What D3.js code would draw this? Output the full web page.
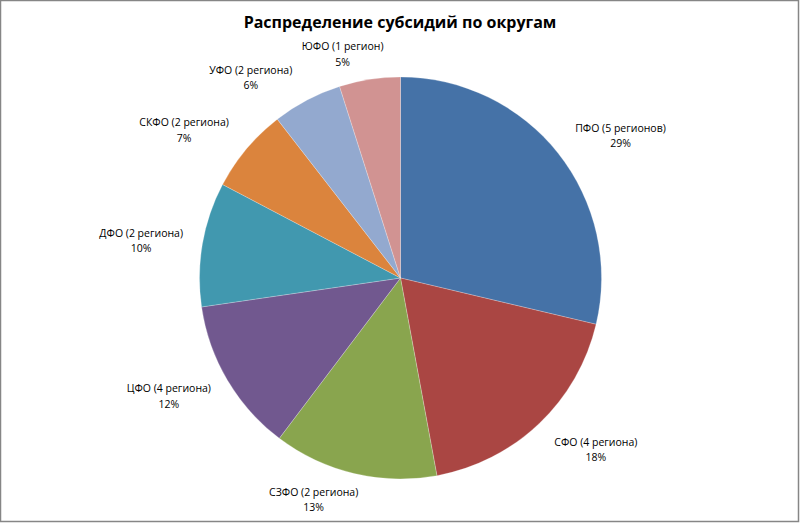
<!DOCTYPE html>
<html lang="ru">
  <head>
    <meta charset="UTF-8" />
    <title>Распределение субсидий по округам</title>
    <script src="https://d3js.org/d3.v7.min.js"></script>
    <style>
      body {
        margin: 0;
        background: #fff;
      }
      svg {
        display: block;
        font-family: "Open Sans", "DejaVu Sans", sans-serif;
      }
      .title {
        font-weight: bold;
        font-size: 16px;
        fill: #000;
      }
      .label {
        font-size: 10.5px;
        fill: #000;
      }
    </style>
  </head>
  <body>
    <div id="chart"></div>

    <script>
      // Данные (доли в процентах, по часовой стрелке от 12 часов)
      const okruga = ["ПФО", "СФО", "СЗФО", "ЦФО", "ДФО", "СКФО", "УФО", "ЮФО"];
      const regiony = ["5 регионов", "4 региона", "2 региона", "4 региона", "2 региона", "2 региона", "2 региона", "1 регион"];
      const doli = [28.7, 18.4, 13.2, 12.4, 10.0, 6.8, 5.6, 4.9];

      const colors = ["#4572A7", "#AA4643", "#89A54E", "#71588F", "#4198AF", "#DB843D", "#93A9CF", "#D19392"];

      // Расположение подписей (угол в градусах от 12 часов, расстояние от центра)
      const labelAngle = [57.1, 131.3, 201.4, 243.0, 278.2, 304.3, 323.2, 345.5];
      const labelDist = [262, 260, 238, 260, 262, 262, 250, 231];

      const width = 800;
      const height = 523;
      const cx = 400.5;
      const cy = 278;
      const radius = 201;

      const data = okruga.map((o, i) => ({ okrug: o, regiony: regiony[i], dolya: doli[i], i: i }));
      const total = d3.sum(doli);

      const svg = d3.select("#chart").append("svg").attr("width", width).attr("height", height);

      // рамка
      svg
        .append("rect")
        .attr("x", 0.5)
        .attr("y", 0.5)
        .attr("width", width - 2)
        .attr("height", height - 2)
        .attr("fill", "#fff")
        .attr("stroke", "#868686")
        .attr("stroke-width", 1.5);

      svg
        .append("text")
        .attr("class", "title")
        .attr("x", width / 2)
        .attr("y", 28)
        .attr("text-anchor", "middle")
        .text("Распределение субсидий по округам");

      const pie = d3
        .pie()
        .value((d) => d.dolya)
        .sort(null)
        .startAngle(0)
        .endAngle(2 * Math.PI);

      const arc = d3.arc().innerRadius(0).outerRadius(radius);

      const g = svg.append("g").attr("transform", `translate(${cx}, ${cy})`);

      g.selectAll("path")
        .data(pie(data))
        .enter()
        .append("path")
        .attr("d", arc)
        .attr("fill", (d) => colors[d.data.i])
        .attr("stroke", "#fff")
        .attr("stroke-width", 0.4)
        .attr("stroke-opacity", 0.6);

      // подписи
      const labels = g
        .selectAll(".label")
        .data(data)
        .enter()
        .append("text")
        .attr("class", "label")
        .attr("text-anchor", "middle")
        .attr("transform", (d) => {
          const a = (labelAngle[d.i] * Math.PI) / 180;
          const x = Math.sin(a) * labelDist[d.i];
          const y = -Math.cos(a) * labelDist[d.i];
          return `translate(${x}, ${y})`;
        });

      labels
        .append("tspan")
        .attr("x", 0)
        .attr("y", -4)
        .text((d) => `${d.okrug} (${d.regiony})`);

      labels
        .append("tspan")
        .attr("x", 0)
        .attr("y", 11.5)
        .text((d) => `${Math.round((d.dolya / total) * 100)}%`);
    </script>
  </body>
</html>
